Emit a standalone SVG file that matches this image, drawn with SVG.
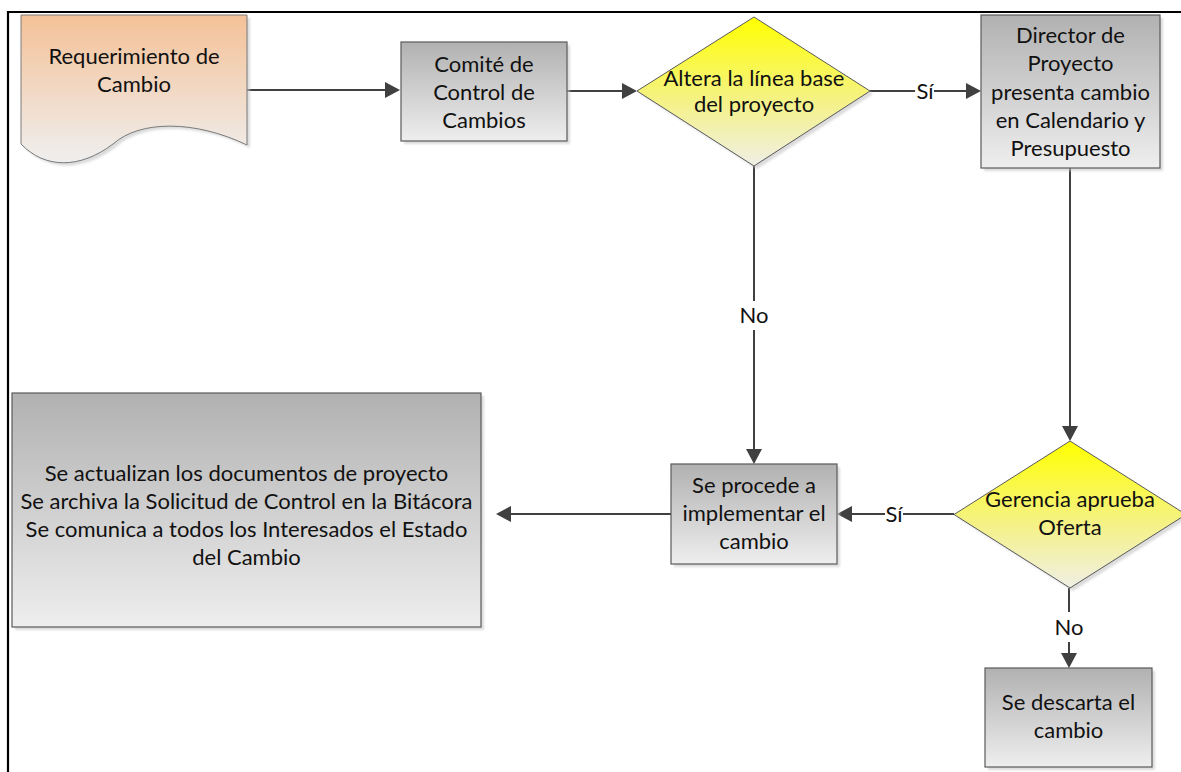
<svg xmlns="http://www.w3.org/2000/svg" width="1181" height="772" viewBox="0 0 1181 772">
  <defs>
    <linearGradient id="gGray" x1="0" y1="0" x2="0" y2="1">
      <stop offset="0" stop-color="#b1b1b1"/>
      <stop offset="1" stop-color="#eeeeee"/>
    </linearGradient>
    <linearGradient id="gYellow" x1="0" y1="0" x2="0" y2="1">
      <stop offset="0" stop-color="#ffff00"/>
      <stop offset="0.55" stop-color="#f5f283"/>
      <stop offset="1" stop-color="#efefe6"/>
    </linearGradient>
    <linearGradient id="gOrange" x1="0" y1="0" x2="0" y2="1">
      <stop offset="0" stop-color="#f4c197"/>
      <stop offset="1" stop-color="#efefef"/>
    </linearGradient>
    <filter id="soft" x="-10%" y="-10%" width="120%" height="120%">
      <feGaussianBlur stdDeviation="1"/>
    </filter>
    <marker id="arrow" markerUnits="userSpaceOnUse" markerWidth="15" markerHeight="16" refX="0" refY="8" orient="auto">
      <path d="M0,0 L15,8 L0,16 Z" fill="#404040"/>
    </marker>
  </defs>
  <style>
    .box { fill: url(#gGray); stroke: #5a5a5a; stroke-width: 1.2; }
    .dia { fill: url(#gYellow); stroke: #5a5a5a; stroke-width: 1; }
    .doc { fill: url(#gOrange); stroke: #7a7a7a; stroke-width: 1; }
    .shadow { fill: #c4c4c4; opacity: 0.6; filter: url(#soft); }
    .txt { font-family: Lato, "Liberation Sans", sans-serif; font-size: 22px; fill: #111111; text-anchor: middle; }
    .edge { fill: none; stroke: #404040; stroke-width: 2; marker-end: url(#arrow); }
    .lblbg { fill: #ffffff; }
    .frame { stroke: #000000; stroke-width: 2.2; fill: none; }
  </style>

  <!-- page frame -->
  <g id="frame">
    <path class="frame" d="M8,772 V12 H1181"/>
  </g>

  <!-- connectors -->
  <g id="connectors">
    <path class="edge" d="M247,90 H385"/>
    <path class="edge" d="M567,91 H622"/>
    <path class="edge" d="M870,91 H966"/>
    <path class="edge" d="M754,166 V449"/>
    <path class="edge" d="M1070,168 V426"/>
    <path class="edge" d="M954,514 H852"/>
    <path class="edge" d="M671,514 H511"/>
    <path class="edge" d="M1069,588 V653"/>
    <g id="labels">
      <rect class="lblbg" x="915" y="82" width="19" height="20"/>
      <text class="txt" x="925" y="98.5">Sí</text>
      <rect class="lblbg" x="739" y="301" width="30" height="29"/>
      <text class="txt" x="754" y="322.5">No</text>
      <rect class="lblbg" x="885" y="505" width="18" height="20"/>
      <text class="txt" x="894" y="521.5">Sí</text>
      <rect class="lblbg" x="1054" y="612" width="30" height="30"/>
      <text class="txt" x="1069" y="635">No</text>
    </g>
  </g>

  <!-- Requerimiento de Cambio (document shape) -->
  <g id="n-requerimiento">
    <path class="shadow" transform="translate(3,3)" d="M21,15 H247 V145 C195,120 140,120 113,144 C80,169 45,169 21,144 Z"/>
    <path class="doc" d="M21,15 H247 V145 C195,120 140,120 113,144 C80,169 45,169 21,144 Z"/>
    <text class="txt" x="134" y="64">Requerimiento de</text>
    <text class="txt" x="134" y="92">Cambio</text>
  </g>

  <!-- Comité de Control de Cambios -->
  <g id="n-comite">
    <rect class="shadow" x="404" y="45" width="166" height="99"/>
    <rect class="box" x="401" y="42" width="166" height="99"/>
    <text class="txt" x="484" y="72">Comité de</text>
    <text class="txt" x="484" y="100">Control de</text>
    <text class="txt" x="484" y="127.5">Cambios</text>
  </g>

  <!-- Altera la línea base del proyecto -->
  <g id="n-altera">
    <path class="shadow" transform="translate(3,3)" d="M754,17 L870,91 L754,166 L637,91 Z"/>
    <path class="dia" d="M754,17 L870,91 L754,166 L637,91 Z"/>
    <text class="txt" x="754" y="85.5">Altera la línea base</text>
    <text class="txt" x="754" y="112">del proyecto</text>
  </g>

  <!-- Director de Proyecto presenta cambio en Calendario y Presupuesto -->
  <g id="n-director">
    <rect class="shadow" x="984" y="18" width="179" height="153"/>
    <rect class="box" x="981" y="15" width="179" height="153"/>
    <text class="txt" x="1070.5" y="43">Director de</text>
    <text class="txt" x="1070.5" y="71">Proyecto</text>
    <text class="txt" x="1070.5" y="99.5">presenta cambio</text>
    <text class="txt" x="1070.5" y="128">en Calendario y</text>
    <text class="txt" x="1070.5" y="156">Presupuesto</text>
  </g>

  <!-- Gerencia aprueba Oferta -->
  <g id="n-gerencia">
    <path class="shadow" transform="translate(3,3)" d="M1070,441 L1186,514.5 L1070,588 L954,514.5 Z"/>
    <path class="dia" d="M1070,441 L1186,514.5 L1070,588 L954,514.5 Z"/>
    <text class="txt" x="1070" y="507">Gerencia aprueba</text>
    <text class="txt" x="1070" y="535">Oferta</text>
  </g>

  <!-- Se procede a implementar el cambio -->
  <g id="n-procede">
    <rect class="shadow" x="674" y="467" width="166" height="100"/>
    <rect class="box" x="671" y="464" width="166" height="100"/>
    <text class="txt" x="754" y="492.5">Se procede a</text>
    <text class="txt" x="754" y="520.5">implementar el</text>
    <text class="txt" x="754" y="548.5">cambio</text>
  </g>

  <!-- Se actualizan los documentos ... -->
  <g id="n-actualizan">
    <rect class="shadow" x="15" y="396" width="469" height="234"/>
    <rect class="box" x="12" y="393" width="469" height="234"/>
    <text class="txt" x="246.5" y="480.5">Se actualizan los documentos de proyecto</text>
    <text class="txt" x="246.5" y="508.5">Se archiva la Solicitud de Control en la Bitácora</text>
    <text class="txt" x="246.5" y="536.5">Se comunica a todos los Interesados el Estado</text>
    <text class="txt" x="246.5" y="564.5">del Cambio</text>
  </g>

  <!-- Se descarta el cambio -->
  <g id="n-descarta">
    <rect class="shadow" x="988" y="671" width="167" height="99"/>
    <rect class="box" x="985" y="668" width="167" height="99"/>
    <text class="txt" x="1068.5" y="710">Se descarta el</text>
    <text class="txt" x="1068.5" y="737.5">cambio</text>
  </g>
</svg>
